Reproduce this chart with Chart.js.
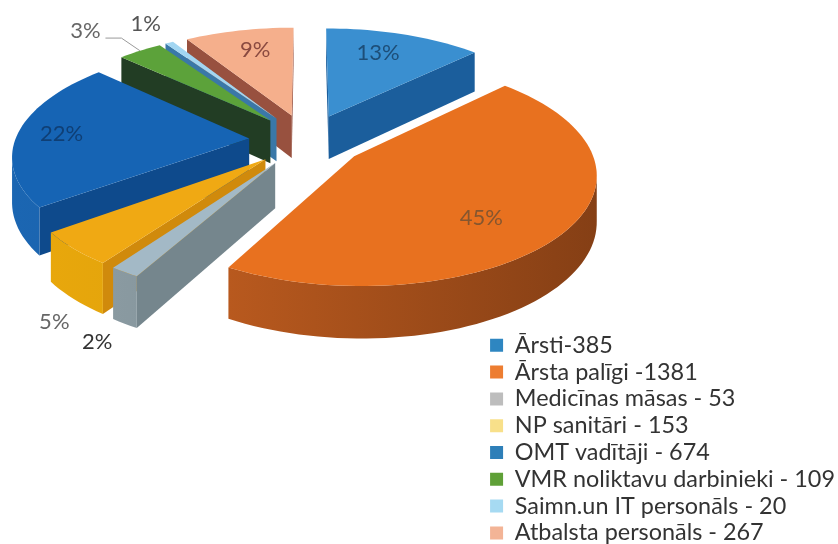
<!DOCTYPE html>
<html><head><meta charset="utf-8">
<style>html,body{margin:0;padding:0;background:#fff}#w{position:relative;width:838px;height:544px}</style>
<script src="https://cdn.jsdelivr.net/npm/chart.js@4"></script>
</head><body><div id="w"><canvas id="c" width="838" height="544"></canvas></div>
<script>
const categories = ["Ārsti-385","Ārsta palīgi -1381","Medicīnas māsas - 53","NP sanitāri - 153","OMT vadītāji - 674","VMR noliktavu darbinieki - 109","Saimn.un IT personāls - 20","Atbalsta personāls - 267"];
const values = [385,1381,53,153,674,109,20,267];
const percentLabels = ["13%","45%","2%","5%","22%","3%","1%","9%"];
const explode = [53,53,53,53,53,53,53,53];
const topColors = ["#3A8FD0","#E8711F","#A3B9C6","#F0A913","#1664B4","#5CA23A","#A2D6F2","#F5AF8C"];
const wallColors = ["#1B5E9C","#B0541C","#75868D","#D08A0C","#0E4A8C","#223D24","#3A78A8","#98513F"];
const outerRight = ["#1B5E9C","#853F15","#7F9097","#DDA00C","#1A5EA8","#223D24","#3A78A8","#98513F"];
const outerLeft = ["#1B5E9C","#B8591E","#8A9AA1","#E8A70C","#1B66B2","#223D24","#3A78A8","#98513F"];
const legendColors = ["#2E86C1","#ED7D31","#BDBDBD","#F8E08A","#2E7FB8","#5FA037","#A6DAF2","#F3B496"];
const labelRadial = [0.74,0.70,1.41,1.39,0.81,1.38,1.28,0.75];
const labelShift = [-3.3,9.6,-8,-14.2,-0.4,-2.8,0.7,1.6];
const labelColors = ["#1D4E78","#85562F","#333333","#666666","#0F3F75","#666666","#555555","#8A4A40"];
const view = {cx:307, cy:140, radius:234, depth:44, tilt:0.455, persp:0.0006};

function project(X,Y,drop){
  const s = 1/(1 - view.persp*Y);
  return [view.cx + X*s, view.cy + view.tilt*Y*s + (drop||0)*s];
}
function fillPoly(ctx,poly,col){
  ctx.beginPath();poly.forEach((q,k)=>k?ctx.lineTo(q[0],q[1]):ctx.moveTo(q[0],q[1]));ctx.closePath();
  ctx.fillStyle=col;ctx.fill();
}
const pie3d = {
  id:'pie3d',
  beforeDatasetsDraw(chart){
    const ctx = chart.ctx, arcs = chart.getDatasetMeta(0).data;
    const items = arcs.map((el,i)=>{
      const p = el.getProps(['startAngle','endAngle','outerRadius'],true);
      const mid = (p.startAngle+p.endAngle)/2;
      const off = (el.options.offset||0)*58/53;
      return {i,p,mid,tip:[off*Math.cos(mid), off*Math.sin(mid)]};
    });
    const pts = it=>{
      const out=[it.tip];
      const n=Math.max(2,Math.ceil((it.p.endAngle-it.p.startAngle)/(Math.PI/90)));
      for(let k=0;k<=n;k++){
        const a=it.p.startAngle+(it.p.endAngle-it.p.startAngle)*k/n;
        out.push([it.tip[0]+view.radius*Math.cos(a), it.tip[1]+view.radius*Math.sin(a)]);
      }
      return out;
    };
    const faces = (a,b,c,d)=>{
      const q=[a,b,c,d];let area=0;
      for(let j=0;j<4;j++){const u=q[j],v=q[(j+1)%4];area+=u[0]*v[1]-v[0]*u[1];}
      return area<0;
    };
    [...items].sort((a,b)=>Math.sin(a.mid)-Math.sin(b.mid)).forEach(it=>{
      const w=pts(it), top=w.map(q=>project(q[0],q[1],0)), bot=w.map(q=>project(q[0],q[1],view.depth));
      const N=top.length, xs=top.map(q=>q[0]);
      const g=ctx.createLinearGradient(Math.min(...xs),0,Math.max(...xs)+1,0);
      g.addColorStop(0,outerLeft[it.i]); g.addColorStop(1,outerRight[it.i]);
      [[0,1],[N-1,0]].forEach(([k,m])=>{
        if(faces(top[k],top[m],bot[m],bot[k])) fillPoly(ctx,[top[k],top[m],bot[m],bot[k]],wallColors[it.i]);
      });
      let first=-1,last=-1;
      for(let k=1;k<N-1;k++){
        if(faces(top[k],top[k+1],bot[k+1],bot[k])){ if(first<0) first=k; last=k+1; }
      }
      if(first>=0){
        const poly=[];
        for(let k=first;k<=last;k++) poly.push(top[k]);
        for(let k=last;k>=first;k--) poly.push(bot[k]);
        fillPoly(ctx,poly,g);
      }
      fillPoly(ctx,top,topColors[it.i]);
    });
    ctx.textAlign='center';ctx.textBaseline='middle';ctx.font='22px Lato';
    items.forEach(it=>{
      const a=it.mid+labelShift[it.i]*Math.PI/180, r=view.radius*labelRadial[it.i];
      const q=project(it.tip[0]+r*Math.cos(a), it.tip[1]+r*Math.sin(a),0);
      if(it.i===5){
        const e=project(it.tip[0]+view.radius*Math.cos(it.mid),it.tip[1]+view.radius*Math.sin(it.mid),0);
        ctx.beginPath();ctx.moveTo(q[0]+20,q[1]+7);ctx.lineTo(q[0]+36,q[1]+7);ctx.lineTo(e[0],e[1]);
        ctx.strokeStyle='#9A9A9A';ctx.lineWidth=1;ctx.stroke();
      }
      ctx.fillStyle=labelColors[it.i];
      ctx.fillText(percentLabels[it.i],q[0],q[1]);
    });
    return false;
  }
};
new Chart(document.getElementById('c'),{
  type:'pie',
  data:{labels:categories,datasets:[{data:values,backgroundColor:topColors,offset:explode,borderWidth:0}]},
  plugins:[pie3d],
  options:{
    responsive:false,animation:false,
    layout:{padding:{right:-7,bottom:-4}},
    plugins:{
      tooltip:{enabled:false},
      legend:{
        position:'right',align:'end',
        labels:{
          boxWidth:13,boxHeight:13,padding:3.4,color:'#333333',font:{family:'Lato',size:23.4},
          generateLabels(chart){return categories.map((t,i)=>({text:t,fillStyle:legendColors[i],strokeStyle:legendColors[i],lineWidth:0,fontColor:'#333333',index:i,hidden:false}));}
        }
      }
    }
  }
});
</script></body></html>
